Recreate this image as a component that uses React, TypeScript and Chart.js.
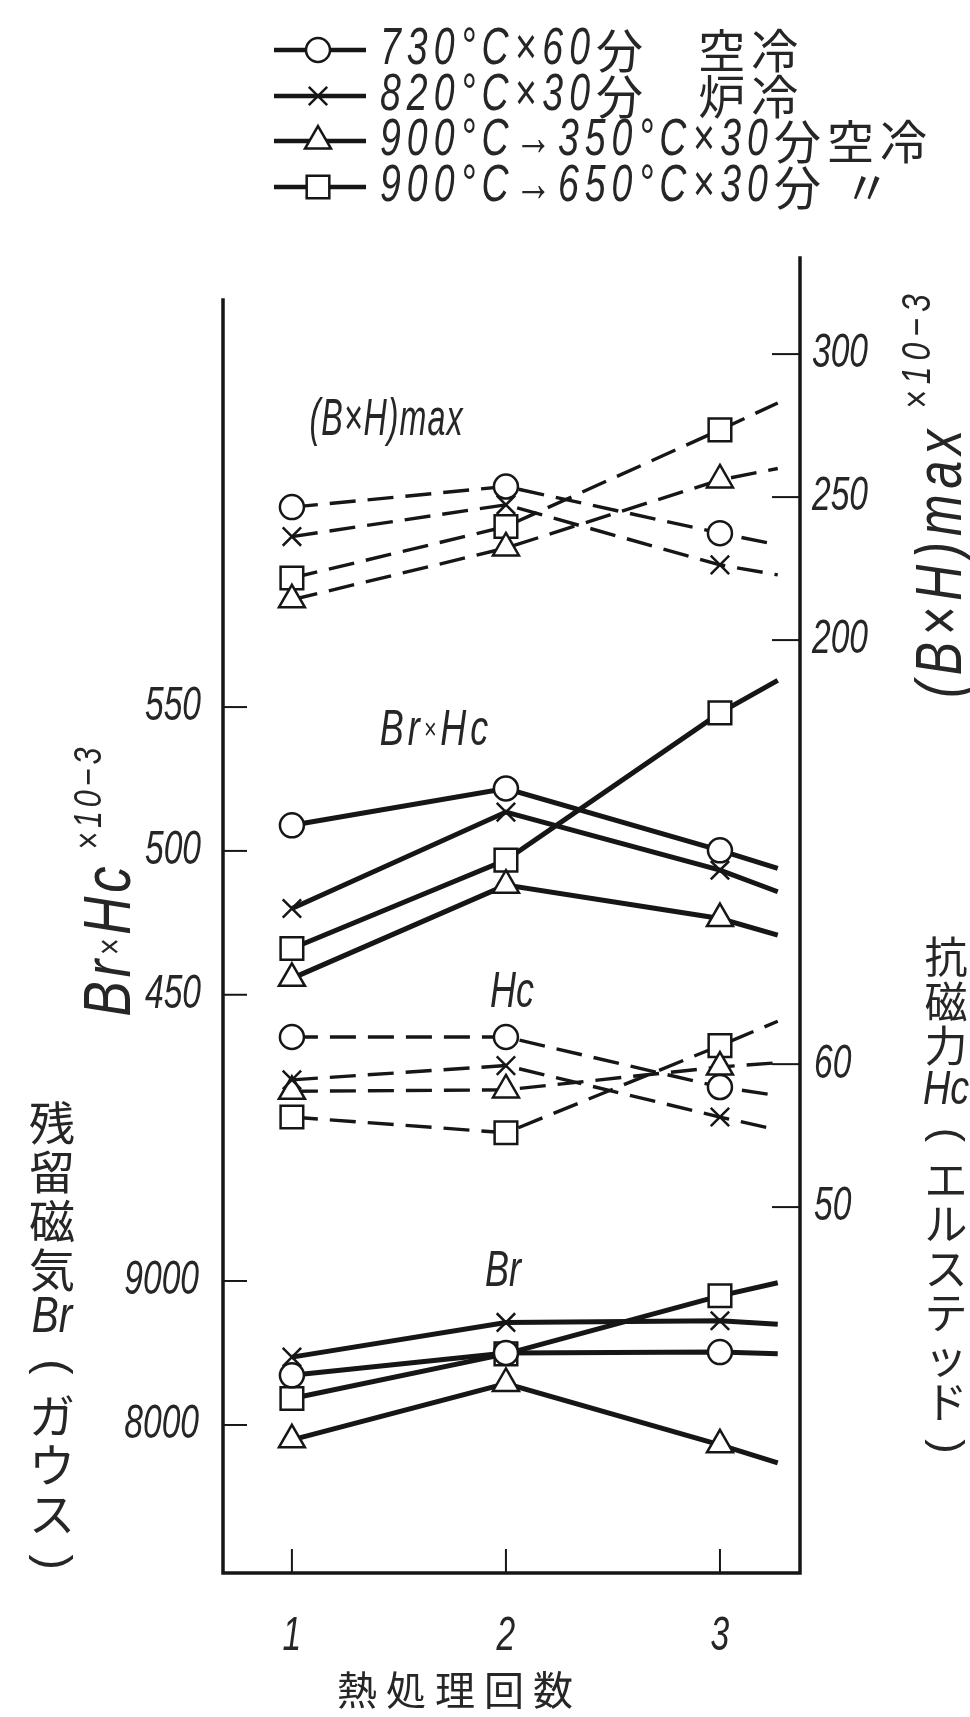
import React, { useEffect, useRef } from "react";
import { Chart, registerables } from "chart.js";
import { drawPoint } from "chart.js/helpers";

Chart.register(...registerables);

// ---------- data ----------
const RUNS = [1, 2, 3]; // 熱処理回数
const TAIL_X = 3.27; // where each drawn line runs out past the 3rd run
const X_TICKS = [1, 2, 3];

const TREATMENTS = [
  "730°C×60分   空冷",
  "820°C×30分   炉冷",
  "900°C→350°C×30分空冷",
  "900°C→650°C×30分 〃",
];
const MARKERS = ["circle", "crossRot", "triangle", "rect"];
const MARKER_R = [12, 13, 15, 16];

// values at runs 1, 2, 3 and at the end of the drawn line
// (B×H)max ×10^-3  (right axis)
const BH_730 = [246.5, 253.7, 237.4, 233.3];
const BH_820 = [236.2, 247.3, 226.3, 222.8];
const BH_350 = [214.1, 232.2, 256.0, 260.0];
const BH_650 = [221.7, 239.7, 273.5, 282.9];

// Br×Hc ×10^-3  (left axis)
const BRHC_730 = [508.9, 521.7, 500.2, 493.9];
const BRHC_820 = [480.0, 513.5, 493.3, 485.8];
const BRHC_350 = [455.7, 488.1, 476.5, 470.7];
const BRHC_650 = [466.1, 496.8, 548.0, 559.3];

// 抗磁力 Hc (エルステッド)  (right axis)
const HC_730 = [61.9, 61.9, 58.4, 57.8];
const HC_820 = [58.9, 59.9, 56.3, 55.4];
const HC_350 = [58.1, 58.2, 59.8, 60.1];
const HC_650 = [56.3, 55.2, 61.3, 63.0];

// 残留磁気 Br (ガウス)  (left axis)
const BR_730 = [8345, 8500, 8506, 8494];
const BR_820 = [8471, 8712, 8724, 8700];
const BR_350 = [7897, 8288, 7862, 7736];
const BR_650 = [8184, 8494, 8897, 8988];

const BH_TICKS = [200, 250, 300];
const BRHC_TICKS = [450, 500, 550];
const HC_TICKS = [50, 60];
const BR_TICKS = [8000, 9000];

const GROUPS = [
  { name: "(B×H)max", axis: "yBH", dashed: true, series: [BH_730, BH_820, BH_350, BH_650] },
  { name: "Br×Hc", axis: "yBrHc", dashed: false, series: [BRHC_730, BRHC_820, BRHC_350, BRHC_650] },
  { name: "Hc", axis: "yHc", dashed: true, series: [HC_730, HC_820, HC_350, HC_650] },
  { name: "Br", axis: "yBr", dashed: false, series: [BR_730, BR_820, BR_350, BR_650] },
];

// ---------- styling helpers ----------
const INK = "#161616";
const LATIN = '"Liberation Sans", "DejaVu Sans", sans-serif';
const CJK = '"Noto Sans CJK JP", "Noto Sans CJK SC", sans-serif';
const SX = 0.72;
const isCJK = (ch: string) => /[\u3000-\u30ff\u3400-\u9fff\uff00-\uffef]/.test(ch);

type Seg = { t: string; size: number; dy?: number; sx?: number };

function drawRich(ctx: CanvasRenderingContext2D, segs: Seg[], x: number, y: number, align: "left" | "center" | "right", spacing = 0) {
  const items: { ch: string; font: string; sx: number; w: number; dy: number }[] = [];
  for (const s of segs) {
    for (const ch of s.t) {
      const cjk = isCJK(ch);
      const font = cjk ? `${Math.round(s.size * 0.9)}px ${CJK}` : `italic ${s.size}px ${LATIN}`;
      ctx.font = font;
      const sx = cjk ? 1 : s.sx ?? SX;
      const w = ctx.measureText(ch).width * sx;
      items.push({ ch, font, sx, w, dy: s.dy || 0 });
    }
  }
  const total = items.reduce((a, b) => a + b.w, 0) + spacing * Math.max(0, items.length - 1);
  let cx = align === "left" ? x : align === "center" ? x - total / 2 : x - total;
  ctx.textAlign = "left";
  ctx.textBaseline = "middle";
  for (const it of items) {
    ctx.save();
    ctx.font = it.font;
    ctx.translate(cx, y + it.dy);
    ctx.scale(it.sx, 1);
    ctx.fillText(it.ch, 0, 0);
    ctx.restore();
    cx += it.w + spacing;
  }
}

function drawStack(ctx: CanvasRenderingContext2D, units: string[], cx: number, y0: number, step: number, size: number) {
  units.forEach((u, i) => {
    const y = y0 + i * step;
    if (u === "(" || u === ")") {
      ctx.save();
      ctx.translate(cx, y);
      ctx.rotate(Math.PI / 2);
      ctx.font = `${size}px ${LATIN}`;
      ctx.textAlign = "center";
      ctx.textBaseline = "middle";
      ctx.fillText(u, 0, 0);
      ctx.restore();
    } else if (!isCJK(u)) {
      drawRich(ctx, [{ t: u, size: size * 1.1, sx: 0.8 }], cx, y, "center");
    } else {
      ctx.font = `${size}px ${CJK}`;
      ctx.textAlign = "center";
      ctx.textBaseline = "middle";
      ctx.fillText(u, cx, y);
    }
  });
}

const decor = {
  id: "decor",
  beforeDatasetsDraw(chart: any) {
    const { ctx, chartArea: ca, scales } = chart;
    ctx.save();
    ctx.strokeStyle = INK;
    ctx.lineCap = "square";
    // frame
    ctx.lineWidth = 3.5;
    ctx.beginPath();
    ctx.moveTo(ca.left, ca.top + 42);
    ctx.lineTo(ca.left, ca.bottom);
    ctx.lineTo(ca.right, ca.bottom);
    ctx.lineTo(ca.right, ca.top);
    ctx.stroke();
    // x ticks (inside)
    ctx.lineWidth = 2;
    ctx.lineCap = "butt";
    for (const v of X_TICKS) {
      const x = scales.x.getPixelForValue(v);
      ctx.beginPath();
      ctx.moveTo(x, ca.bottom);
      ctx.lineTo(x, ca.bottom - 24);
      ctx.stroke();
    }
    // left ticks (inside)
    const left = [
      { s: scales.yBrHc, ticks: BRHC_TICKS },
      { s: scales.yBr, ticks: BR_TICKS },
    ];
    for (const { s, ticks } of left) {
      for (const v of ticks) {
        const y = s.getPixelForValue(v);
        ctx.beginPath();
        ctx.moveTo(ca.left, y);
        ctx.lineTo(ca.left + 24, y);
        ctx.stroke();
      }
    }
    const right = [
      { s: scales.yBH, ticks: BH_TICKS },
      { s: scales.yHc, ticks: HC_TICKS },
    ];
    for (const { s, ticks } of right) {
      for (const v of ticks) {
        const y = s.getPixelForValue(v);
        ctx.beginPath();
        ctx.moveTo(ca.right, y);
        ctx.lineTo(ca.right - 28, y);
        ctx.stroke();
      }
    }
    ctx.restore();
  },
  afterDraw(chart: any) {
    const { ctx, chartArea: ca, scales } = chart;
    ctx.save();
    ctx.fillStyle = "#262626";
    // tick labels
    const tk = (v: number) => [{ t: String(v), size: 48, sx: 0.7 }];
    for (const v of BRHC_TICKS) drawRich(ctx, tk(v), ca.left - 22, scales.yBrHc.getPixelForValue(v), "right");
    for (const v of BR_TICKS) drawRich(ctx, tk(v), ca.left - 24, scales.yBr.getPixelForValue(v), "right");
    for (const v of BH_TICKS) drawRich(ctx, tk(v), ca.right + 12, scales.yBH.getPixelForValue(v), "left");
    for (const v of HC_TICKS) drawRich(ctx, tk(v), ca.right + 14, scales.yHc.getPixelForValue(v), "left");
    for (const v of X_TICKS) drawRich(ctx, tk(v), scales.x.getPixelForValue(v), ca.bottom + 64, "center");

    // x title
    const title = "熱処理回数";
    ctx.font = `40px ${CJK}`;
    ctx.textAlign = "center";
    ctx.textBaseline = "middle";
    [...title].forEach((ch, i) => ctx.fillText(ch, 455 + (i - 2) * 49, 1690));

    // rotated axis titles
    ctx.save();
    ctx.translate(112, 882);
    ctx.rotate(-Math.PI / 2);
    drawRich(ctx, [
      { t: "Br", size: 66, sx: 0.8 }, { t: "×", size: 36, sx: 0.8 }, { t: "Hc", size: 66, sx: 0.8 },
      { t: " ×10", size: 38, dy: -22, sx: 0.8 }, { t: "−3", size: 38, dy: -22, sx: 0.8 },
    ], 0, 0, "center", 4);
    ctx.restore();

    ctx.save();
    ctx.translate(943, 496);
    ctx.rotate(-Math.PI / 2);
    drawRich(ctx, [
      { t: "(B×H)", size: 64, sx: 0.78 }, { t: "max", size: 64, sx: 0.78 },
      { t: " ×10", size: 40, dy: -24, sx: 0.8 }, { t: "−3", size: 40, dy: -24, sx: 0.8 },
    ], 0, 0, "center", 6);
    ctx.restore();

    // stacked vertical titles
    drawStack(ctx, ["残", "留", "磁", "気", "Br", "(", "ガ", "ウ", "ス", ")"], 52, 1123, 48.8, 46);
    drawStack(ctx, ["抗", "磁", "力", "Hc", "(", "エ", "ル", "ス", "テ", "ッ", "ド", ")"], 946, 957, 44.5, 43);

    // group annotations
    drawRich(ctx, [{ t: "(B×H)", size: 52, sx: 0.62 }, { t: "max", size: 52, sx: 0.62 }], 386, 421, "center", 1);
    drawRich(ctx, [{ t: "Br", size: 50 }, { t: "×", size: 30 }, { t: "Hc", size: 50 }], 434, 731, "center", 4);
    drawRich(ctx, [{ t: "Hc", size: 50 }], 512, 993, "center");
    drawRich(ctx, [{ t: "Br", size: 50 }], 503, 1272, "center");

    // legend
    const rows = [50, 96, 141, 187];
    TREATMENTS.forEach((label, i) => {
      const y = rows[i];
      ctx.strokeStyle = INK;
      ctx.lineWidth = 4.5;
      ctx.beginPath();
      ctx.moveTo(274, y);
      ctx.lineTo(366, y);
      ctx.stroke();
      ctx.fillStyle = "#fff";
      ctx.lineWidth = 2.5;
      drawPoint(ctx, { pointStyle: MARKERS[i], rotation: 0, radius: MARKER_R[i], borderWidth: 2.5 } as any, 318, y);
      ctx.fillStyle = "#262626";
      drawRich(ctx, [{ t: label, size: 52 }], 380, y, "left", 6);
    });
    ctx.restore();
  },
};

export default function App() {
  const ref = useRef<HTMLCanvasElement>(null);
  useEffect(() => {
    const xs = [...RUNS, TAIL_X];
    const datasets: any[] = [];
    GROUPS.forEach((g) => {
      g.series.forEach((vals, t) => {
        datasets.push({
          label: `${g.name} ${TREATMENTS[t]}`,
          yAxisID: g.axis,
          data: xs.map((x, i) => ({ x, y: vals[i] })),
          borderColor: INK,
          borderWidth: g.dashed ? 3.4 : 5,
          borderDash: g.dashed ? [26, 12] : [],
          tension: 0,
          fill: false,
          pointStyle: MARKERS[t],
          pointRadius: xs.map((_, i) => (i < RUNS.length ? MARKER_R[t] : 0)),
          pointBorderWidth: 2.5,
          pointBorderColor: INK,
          pointBackgroundColor: "#fff",
        });
      });
    });
    const chart = new Chart(ref.current!, {
      type: "line",
      data: { datasets },
      options: {
        responsive: false,
        animation: false,
        devicePixelRatio: 1,
        events: [],
        layout: { padding: { left: 223, right: 170, top: 258, bottom: 144 } },
        plugins: { legend: { display: false }, tooltip: { enabled: false } },
        scales: {
          x: { type: "linear", min: 0.678, max: 3.374, display: false },
          yBH: { type: "linear", min: -126.2, max: 333.6, display: false },
          yBrHc: { type: "linear", min: 249.0, max: 706.1, display: false },
          yHc: { type: "linear", min: 24.4, max: 116.4, display: false },
          yBr: { type: "linear", min: 6972, max: 16104, display: false },
        },
      } as any,
      plugins: [decor],
    });
    return () => chart.destroy();
  }, []);
  return (
    <div style={{ position: "absolute", left: 0, top: 0, width: 970, height: 1717, background: "#fff" }}>
      <canvas ref={ref} width={970} height={1717} style={{ display: "block", width: 970, height: 1717 }} />
    </div>
  );
}
